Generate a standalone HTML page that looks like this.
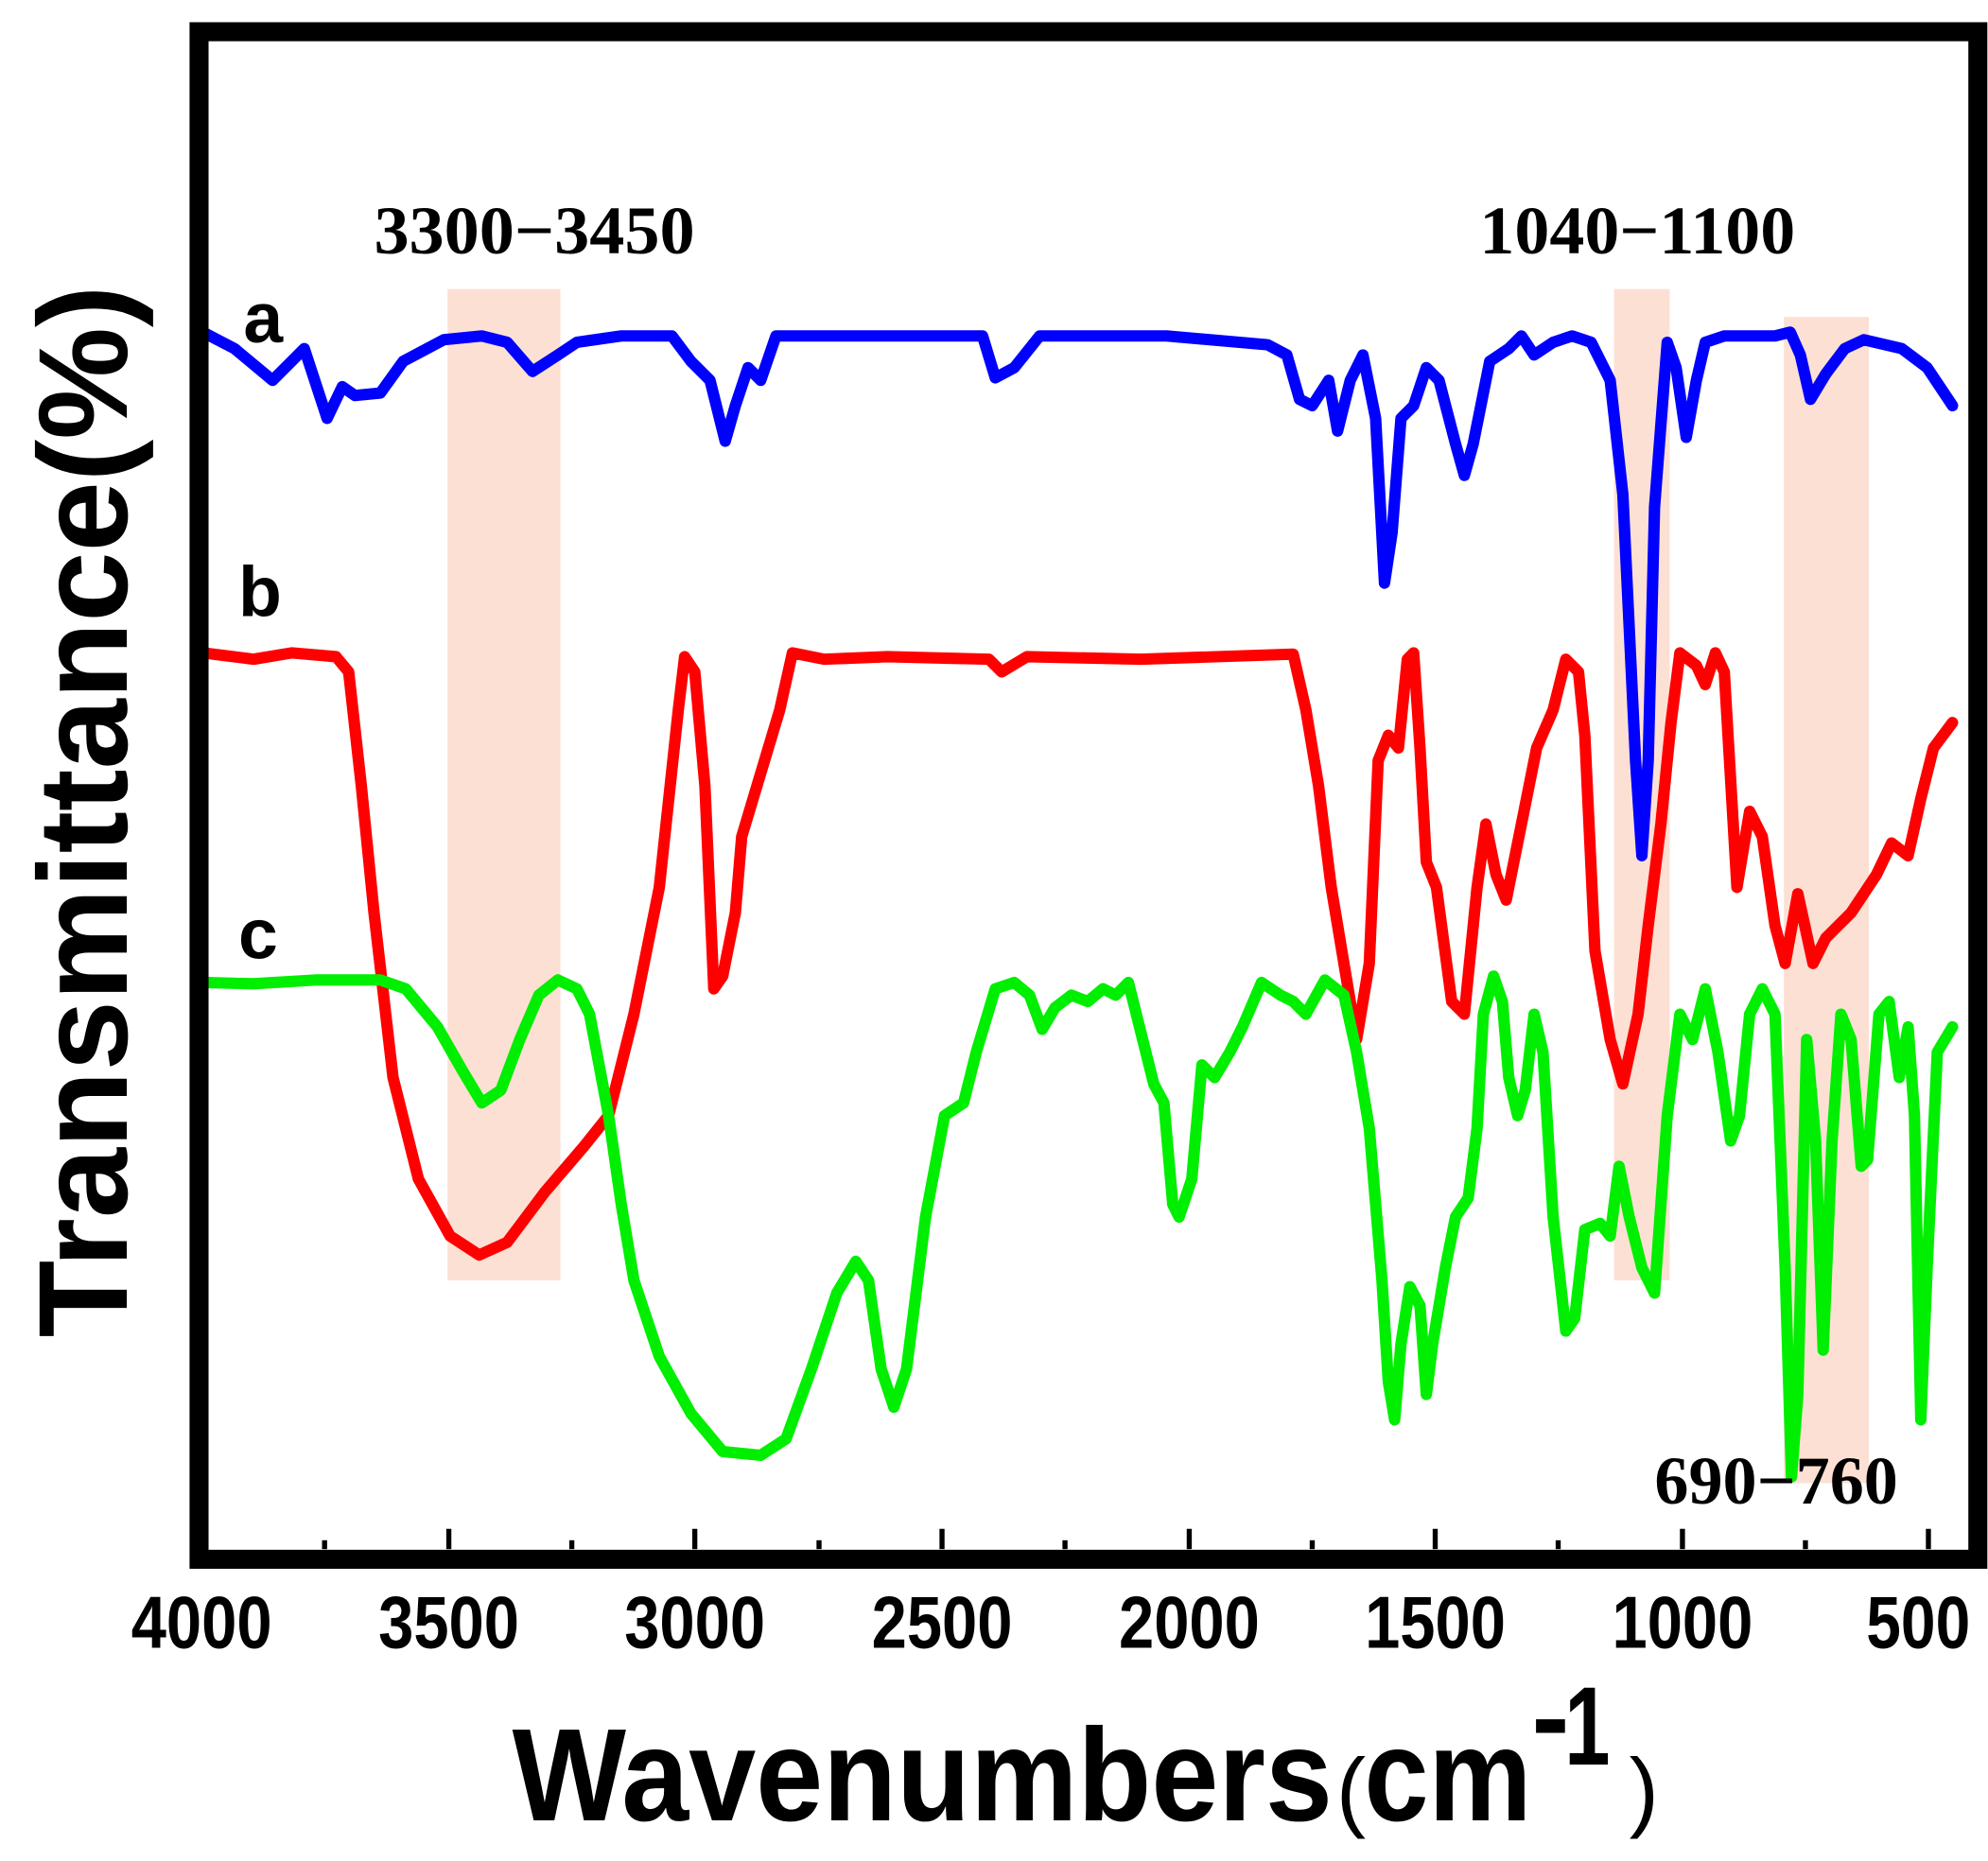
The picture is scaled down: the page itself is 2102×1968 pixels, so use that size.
<!DOCTYPE html>
<html><head><meta charset="utf-8"><style>html,body{margin:0;padding:0;background:#fff}svg{display:block}</style></head>
<body>
<svg width="2102" height="1968" viewBox="0 0 1568 1468" xmlns="http://www.w3.org/2000/svg">
<rect width="1568" height="1468" fill="#fff"/>
<g fill="#fde0d4">
<rect x="353" y="228" width="89" height="782"/>
<rect x="1273" y="228" width="44" height="782"/>
<rect x="1407" y="250" width="67" height="920"/>
</g>
<g fill="none" stroke-width="9" stroke-linejoin="round" stroke-linecap="round">
<polyline stroke="#0000ff" points="160,262 185,275 215,300 240,275 258,330 270,305 280,312 300,310 318,285 350,268 380,265 400,270 420,293 440,280 455,270 490,265 530,265 545,285 560,300 572,348 580,320 590,290 600,300 612,265 680,265 775,265 785,298 800,290 820,265 920,265 1000,272 1015,280 1025,315 1035,320 1048,300 1055,340 1065,300 1075,280 1085,330 1092,460 1098,420 1105,330 1115,320 1125,290 1135,300 1148,350 1155,375 1162,350 1175,285 1190,275 1200,265 1210,280 1225,270 1240,265 1255,270 1270,300 1280,390 1290,600 1295,675 1300,600 1305,400 1315,270 1322,290 1330,345 1338,300 1345,270 1360,265 1400,265 1412,262 1420,280 1428,315 1440,295 1455,275 1470,268 1500,275 1520,290 1530,305 1540,320"/>
<polyline stroke="#ff0000" points="160,515 200,520 230,515 265,518 275,530 285,620 295,720 310,850 330,930 355,975 378,990 400,980 430,940 460,905 480,880 500,800 520,700 535,560 540,518 548,530 556,620 563,780 570,770 580,720 585,660 600,610 615,560 625,515 650,520 700,518 780,520 790,530 810,518 900,520 1020,516 1030,560 1040,620 1050,700 1060,760 1070,820 1080,760 1087,600 1095,580 1103,590 1110,520 1115,515 1120,590 1125,680 1133,700 1145,790 1155,800 1165,700 1172,650 1180,690 1188,710 1200,650 1212,590 1225,560 1235,520 1245,530 1250,580 1258,750 1270,820 1280,855 1292,800 1300,730 1310,650 1318,570 1325,515 1338,525 1345,540 1353,515 1360,530 1370,700 1380,640 1390,660 1400,730 1408,760 1418,705 1430,760 1440,740 1460,720 1480,690 1492,665 1505,675 1515,630 1525,590 1540,570"/>
<polyline stroke="#00ee00" points="160,775 200,776 250,773 300,773 320,780 345,810 365,845 380,870 395,860 410,820 425,785 440,773 455,780 465,800 480,880 490,950 500,1010 520,1070 545,1115 570,1145 600,1148 620,1135 640,1080 660,1020 675,995 685,1010 695,1080 705,1110 715,1080 730,960 745,880 760,870 770,830 785,780 800,775 812,785 822,812 832,795 845,785 858,790 870,780 880,785 890,775 900,815 910,855 918,870 925,950 930,960 940,930 948,840 958,850 970,830 980,810 995,775 1010,785 1020,790 1030,800 1045,773 1060,785 1070,830 1080,890 1090,1010 1095,1090 1100,1120 1105,1060 1112,1015 1120,1030 1125,1100 1130,1060 1140,1000 1148,960 1158,945 1165,890 1170,800 1178,770 1185,790 1190,850 1197,880 1203,860 1210,800 1217,830 1225,960 1235,1050 1242,1040 1250,970 1262,965 1270,975 1277,920 1285,960 1295,1000 1305,1020 1315,880 1325,800 1335,820 1345,780 1355,830 1365,900 1372,880 1380,800 1390,780 1400,800 1408,1000 1413,1165 1418,1100 1425,820 1432,900 1438,1065 1445,900 1452,800 1460,820 1468,920 1473,915 1482,800 1490,790 1498,850 1505,810 1510,880 1515,1120 1520,1000 1528,830 1540,810"/>
</g>
<rect x="157" y="25" width="1403" height="1205" fill="none" stroke="#000" stroke-width="15"/>
<g stroke="#000" stroke-width="4">
<line x1="354" y1="1222" x2="354" y2="1206"/><line x1="548" y1="1222" x2="548" y2="1206"/><line x1="743" y1="1222" x2="743" y2="1206"/><line x1="938" y1="1222" x2="938" y2="1206"/><line x1="1132" y1="1222" x2="1132" y2="1206"/><line x1="1327" y1="1222" x2="1327" y2="1206"/><line x1="1521" y1="1222" x2="1521" y2="1206"/>
<line x1="256" y1="1222" x2="256" y2="1215"/><line x1="451" y1="1222" x2="451" y2="1215"/><line x1="646" y1="1222" x2="646" y2="1215"/><line x1="840" y1="1222" x2="840" y2="1215"/><line x1="1035" y1="1222" x2="1035" y2="1215"/><line x1="1229" y1="1222" x2="1229" y2="1215"/><line x1="1424" y1="1222" x2="1424" y2="1215"/>
</g>
<g font-family="Liberation Sans, sans-serif" font-weight="bold" font-size="58" text-anchor="middle">
<text x="159" y="1300" textLength="111" lengthAdjust="spacingAndGlyphs">4000</text>
<text x="354" y="1300" textLength="111" lengthAdjust="spacingAndGlyphs">3500</text>
<text x="548" y="1300" textLength="111" lengthAdjust="spacingAndGlyphs">3000</text>
<text x="743" y="1300" textLength="111" lengthAdjust="spacingAndGlyphs">2500</text>
<text x="938" y="1300" textLength="111" lengthAdjust="spacingAndGlyphs">2000</text>
<text x="1132" y="1300" textLength="111" lengthAdjust="spacingAndGlyphs">1500</text>
<text x="1327" y="1300" textLength="111" lengthAdjust="spacingAndGlyphs">1000</text>
<text x="1513" y="1300" textLength="82" lengthAdjust="spacingAndGlyphs">500</text>
</g>
<g font-family="Liberation Sans, sans-serif" font-weight="bold">
<text x="404" y="1436" font-size="104" textLength="647" lengthAdjust="spacingAndGlyphs">Wavenumbers</text>
<text x="1054" y="1436" font-size="70" font-weight="normal">(</text>
<text x="1076" y="1436" font-size="104" textLength="132" lengthAdjust="spacingAndGlyphs">cm</text>
<text x="1208" y="1385" font-size="90">-</text>
<text x="1234" y="1392" font-size="88" textLength="36" lengthAdjust="spacingAndGlyphs">1</text>
<text x="1285" y="1436" font-size="70" font-weight="normal">)</text>
<text transform="translate(100,640) rotate(-90)" font-size="100" text-anchor="middle" textLength="830" lengthAdjust="spacingAndGlyphs">Transmittance(%)</text>
<text x="192" y="270" font-size="56">a</text>
<text x="188" y="486" font-size="56">b</text>
<text x="188" y="756" font-size="56">c</text>
</g>
<g font-family="Liberation Serif, serif" font-weight="bold" font-size="54">
<text x="295" y="200" textLength="253" lengthAdjust="spacingAndGlyphs">3300−3450</text>
<text x="1167" y="200" textLength="249" lengthAdjust="spacingAndGlyphs">1040−1100</text>
<text x="1305" y="1186" textLength="192" lengthAdjust="spacingAndGlyphs">690−760</text>
</g>
</svg>
</body></html>
